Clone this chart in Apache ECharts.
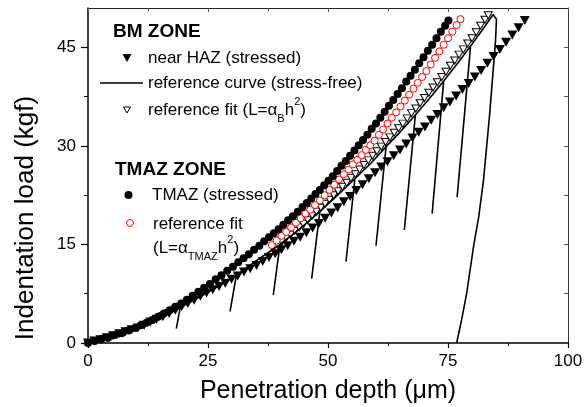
<!DOCTYPE html>
<html>
<head>
<meta charset="utf-8">
<script src="https://cdn.jsdelivr.net/npm/echarts@6/dist/echarts.min.js"></script>
<style>
  html, body { margin: 0; padding: 0; background: #fff; }
  #chart { width: 585px; height: 407px; }
</style>
</head>
<body>
<div id="chart"></div>
<script>
// near HAZ (stressed) - filled down triangles
const hazH = [0,1.3,2.6,3.9,5.2,6.5,7.8,9.1,10.4,11.7,13.0,14.3,15.6,16.9,18.2,19.5,20.8,22.1,23.4,24.7,26.0,27.3,28.6,29.9,31.2,32.5,33.8,35.1,36.4,37.7,39.0,40.3,41.6,42.9,44.2,45.5,46.8,48.1,49.4,50.7,52.0,53.3,54.6,55.9,57.2,58.5,59.8,61.1,62.4,63.7,65.0,66.3,67.6,68.9,70.2,71.5,72.8,74.1,75.4,76.7,78.0,79.3,80.6,81.9,83.2,84.5,85.8,87.1,88.4,89.7,91.0];
const hazL = [0,0.3,0.5,0.8,1.1,1.4,1.7,2.0,2.3,2.7,3.2,3.6,4.0,4.5,5.0,5.5,6.0,6.5,7.1,7.6,8.1,8.6,9.1,9.7,10.2,10.8,11.3,11.8,12.4,13.0,13.6,14.2,14.8,15.5,16.1,16.8,17.5,18.2,19.0,19.8,20.6,21.5,22.3,23.2,24.1,25.0,25.9,26.8,27.6,28.5,29.4,30.3,31.2,32.1,32.9,33.9,34.8,35.8,36.7,37.6,38.6,39.5,40.5,41.5,42.6,43.6,44.7,45.8,46.9,48.0,49.1];

// reference curve (stress-free) with partial unloadings and final unload
const refH = [0,5,10,15,19.2,18.4,19.2,24,28.2,30.9,29.6,30.9,35,40,38.6,40,44,48.3,46.6,48.3,52,55.6,53.75,55.6,59,62.1,60,62.1,65,68.2,65.9,68.2,71,74.1,71.7,74.1,77,79.7,76.9,79.7,82,84.4,85.1,84.9,83.7,82.4,81.4,80.3,78.9,77.8,76.8];
const refL = [0,1.0,2.1,3.7,5.4,2.2,5.4,7.3,9.1,10.3,4.8,10.3,12.5,15.0,7.3,15.0,17.3,20.0,9.8,20.0,22.5,25.0,12.4,25.0,27.4,29.9,14.8,29.9,32.1,34.7,17.2,34.7,37.1,39.9,19.7,39.9,42.6,45.2,22.2,45.2,47.5,50.0,49.3,46.0,35.0,24.8,19.2,14.6,7.6,3.4,0];

// reference fit (L = aB h^2) - open down triangles
const fitBH = [39.5,40.4,41.3,42.2,43.1,44.0,44.9,45.8,46.7,47.6,48.5,49.4,50.3,51.2,52.1,53.0,53.9,54.8,55.7,56.6,57.5,58.4,59.3,60.2,61.1,62.0,62.9,63.8,64.7,65.6,66.5,67.4,68.3,69.2,70.1,71.0,71.9,72.8,73.7,74.6,75.5,76.4,77.3,78.2,79.1,80.0,80.9,81.8,82.7,83.4];
const fitBL = [14.9,15.4,16.0,16.5,17.1,17.6,18.1,18.7,19.4,20.0,20.6,21.2,21.8,22.5,23.1,23.8,24.4,25.1,25.7,26.4,27.1,27.8,28.5,29.2,29.9,30.6,31.3,32.0,32.7,33.4,34.2,35.0,35.7,36.5,37.3,38.1,38.9,39.7,40.5,41.3,42.2,43.0,43.9,44.7,45.6,46.4,47.3,48.3,49.2,49.9];

// TMAZ (stressed) - filled circles
const tmazH = [0,1.4,2.8,4.2,5.6,7.0,8.4,9.8,11.0,12.2,13.4,14.6,15.8,17.0,18.2,19.4,20.6,21.8,23.0,24.2,25.4,26.6,27.8,29.0,30.2,31.3,32.4,33.5,34.6,35.7,36.7,37.7,38.7,39.7,40.7,41.7,42.7,43.7,44.7,45.6,46.5,47.4,48.3,49.2,50.1,51.0,51.9,52.8,53.7,54.6,55.5,56.4,57.3,58.2,59.1,60.0,60.9,61.8,62.7,63.6,64.5,65.4,66.3,67.2,68.1,69.0,69.9,70.8,71.7,72.6,73.5,74.4,75.1];
const tmazL = [0,0.3,0.6,0.8,1.2,1.5,1.9,2.3,2.7,3.1,3.5,4.0,4.5,5.0,5.5,6.0,6.6,7.2,7.8,8.4,9.0,9.7,10.3,11.0,11.6,12.3,12.9,13.5,14.2,14.8,15.5,16.1,16.7,17.3,18.0,18.7,19.3,20.0,20.7,21.3,22.0,22.7,23.3,24.0,24.7,25.4,26.2,27.0,27.7,28.5,29.3,30.1,30.9,31.7,32.6,33.4,34.3,35.2,36.1,37.0,37.9,38.8,39.8,40.7,41.6,42.6,43.5,44.5,45.4,46.4,47.4,48.3,49.1];

// reference fit (L = aTMAZ h^2) - red open circles
const fitTH = [38.3,39.3,40.3,41.3,42.3,43.3,44.3,45.3,46.3,47.3,48.3,49.3,50.3,51.3,52.3,53.3,54.3,55.2,56.1,57.0,57.9,58.8,59.7,60.6,61.5,62.4,63.3,64.2,65.1,66.0,66.9,67.8,68.7,69.6,70.5,71.4,72.3,73.2,74.1,75.0,75.9,76.8,77.6];
const fitTL = [14.9,15.6,16.3,16.9,17.6,18.3,19.0,19.7,20.3,21.0,21.7,22.5,23.3,24.1,24.9,25.7,26.4,27.2,27.9,28.6,29.4,30.1,30.8,31.7,32.5,33.4,34.3,35.1,36.0,36.9,37.8,38.7,39.6,40.5,41.4,42.4,43.4,44.4,45.4,46.4,47.4,48.4,49.3];

const yTicks = [0, 15, 30, 45];
const yMinorTicks = [7.5, 22.5, 37.5];
const yRightTicks = [7.5, 15, 22.5, 30, 37.5, 45];

const FONT = '"Liberation Sans", Arial, sans-serif';

function pairs(xs, ys) {
  let n = Math.min(xs.length, ys.length);
  let out = [];
  for (let i = 0; i < n; i++) out.push([xs[i], ys[i]]);
  return out;
}

let chart = echarts.init(document.getElementById('chart'));

let subRich = {
  m: { fontSize: 17, lineHeight: 28, fontFamily: FONT, fill: '#000', verticalAlign: 'middle' },
  sub: { fontSize: 11, lineHeight: 11, fontFamily: FONT, fill: '#000', verticalAlign: 'bottom' },
  sup: { fontSize: 11, lineHeight: 11, fontFamily: FONT, fill: '#000', verticalAlign: 'top' }
};

function label(x, y, text, extra) {
  return {
    type: 'text', x: x, y: y, z: 100,
    style: Object.assign({ text: text, fontSize: 17, fontFamily: FONT, fill: '#000', verticalAlign: 'middle' }, extra || {})
  };
}

let option = {
  animation: false,
  backgroundColor: '#fff',
  grid: { left: 88, right: 17, top: 8, bottom: 64, outerBoundsMode: 'none' },
  xAxis: [
    {
      type: 'value', min: 0, max: 100, interval: 25, position: 'bottom',
      axisLine: { onZero: false, lineStyle: { color: '#000', width: 1.5 } },
      axisTick: { length: 5, lineStyle: { color: '#000', width: 1.2 } },
      minorTick: { show: true, splitNumber: 2, length: 3, lineStyle: { color: '#000', width: 1 } },
      axisLabel: { fontSize: 17, color: '#000', margin: 10, fontFamily: FONT },
      splitLine: { show: false }
    },
    {
      type: 'value', min: 0, max: 100, interval: 25, position: 'top',
      axisLine: { onZero: false, lineStyle: { color: '#222', width: 1 } },
      axisTick: { inside: true, length: 4, lineStyle: { color: '#555', width: 1 } },
      minorTick: { show: true, splitNumber: 2, length: 3, lineStyle: { color: '#555', width: 1 } },
      axisLabel: { show: false },
      splitLine: { show: false }
    }
  ],
  yAxis: [
    {
      type: 'value', min: 0, max: 51, position: 'left',
      axisLine: { show: true, onZero: false, lineStyle: { color: '#000', width: 1.5 } },
      axisTick: { customValues: yTicks, length: 7, lineStyle: { color: '#000', width: 1.2 } },
      axisLabel: { customValues: yTicks, fontSize: 17, color: '#000', margin: 12, fontFamily: FONT },
      splitLine: { show: false }
    },
    {
      type: 'value', min: 0, max: 51, position: 'left',
      axisLine: { show: false, onZero: false },
      axisTick: { customValues: yMinorTicks, length: 4, lineStyle: { color: '#000', width: 1 } },
      axisLabel: { show: false },
      splitLine: { show: false }
    },
    {
      type: 'value', min: 0, max: 51, position: 'right',
      axisLine: { show: true, onZero: false, lineStyle: { color: '#333', width: 1 } },
      axisTick: { customValues: yRightTicks, inside: true, length: 4, lineStyle: { color: '#555', width: 1 } },
      axisLabel: { show: false },
      splitLine: { show: false }
    }
  ],
  series: [
    {
      name: 'near HAZ (stressed)', type: 'scatter', xAxisIndex: 0, yAxisIndex: 0,
      symbol: 'triangle', symbolRotate: 180, symbolSize: [10, 9],
      itemStyle: { color: '#000', opacity: 1 },
      data: pairs(hazH, hazL), z: 2
    },
    {
      name: 'reference fit (B)', type: 'scatter', xAxisIndex: 0, yAxisIndex: 0,
      symbol: 'triangle', symbolRotate: 180, symbolSize: [8, 7],
      itemStyle: { color: '#fff', borderColor: '#000', borderWidth: 1, opacity: 1 },
      data: pairs(fitBH, fitBL), z: 3
    },
    {
      name: 'reference fit (TMAZ)', type: 'scatter', xAxisIndex: 0, yAxisIndex: 0,
      symbol: 'circle', symbolSize: 7,
      itemStyle: { color: '#fff', borderColor: '#ff0000', borderWidth: 1, opacity: 1 },
      data: pairs(fitTH, fitTL), z: 4
    },
    {
      name: 'TMAZ (stressed)', type: 'scatter', xAxisIndex: 0, yAxisIndex: 0,
      symbol: 'circle', symbolSize: 8,
      itemStyle: { color: '#000', opacity: 1 },
      data: pairs(tmazH, tmazL), z: 5
    },
    {
      name: 'reference curve (stress-free)', type: 'line', xAxisIndex: 0, yAxisIndex: 0,
      showSymbol: false, symbol: 'none',
      lineStyle: { color: '#000', width: 1.6 },
      data: pairs(refH, refL), z: 6
    }
  ],
  graphic: [
    label(113, 32, 'BM ZONE', { fontSize: 19, fontWeight: 'bold' }),
    { type: 'polygon', z: 100, shape: { points: [[122.5, 54], [131.5, 54], [127, 62]] }, style: { fill: '#000' } },
    label(148, 58, 'near HAZ (stressed)'),
    { type: 'line', z: 100, shape: { x1: 100, y1: 83, x2: 143, y2: 83 }, style: { stroke: '#000', lineWidth: 1.5 } },
    label(148, 83, 'reference curve (stress-free)'),
    { type: 'polygon', z: 100, shape: { points: [[123.5, 107], [130.5, 107], [127, 113]] }, style: { fill: '#fff', stroke: '#000', lineWidth: 1 } },
    label(148, 110, '{m|reference fit (L=α}{sub|B}{m|h}{sup|2}{m|)}', { rich: subRich }),
    label(115, 170, 'TMAZ ZONE', { fontSize: 19, fontWeight: 'bold' }),
    { type: 'circle', z: 100, shape: { cx: 128.5, cy: 195, r: 4 }, style: { fill: '#000' } },
    label(152, 195, 'TMAZ (stressed)'),
    { type: 'circle', z: 100, shape: { cx: 130, cy: 223, r: 3.5 }, style: { fill: '#fff', stroke: '#ff0000', lineWidth: 1 } },
    label(153, 224, 'reference fit'),
    label(153, 248, '{m|(L=α}{sub|TMAZ}{m|h}{sup|2}{m|)}', { rich: subRich }),
    // axis titles
    label(328, 391, 'Penetration depth (μm)', { fontSize: 25, align: 'center' }),
    {
      type: 'text', x: 26, y: 218, rotation: Math.PI / 2, z: 100,
      style: { text: 'Indentation load (kgf)', fontSize: 26, fontFamily: FONT, fill: '#000', align: 'center', verticalAlign: 'middle' }
    }
  ]
};

chart.setOption(option);
window.addEventListener('resize', () => {
  chart.resize();
});
</script>
</body>
</html>
